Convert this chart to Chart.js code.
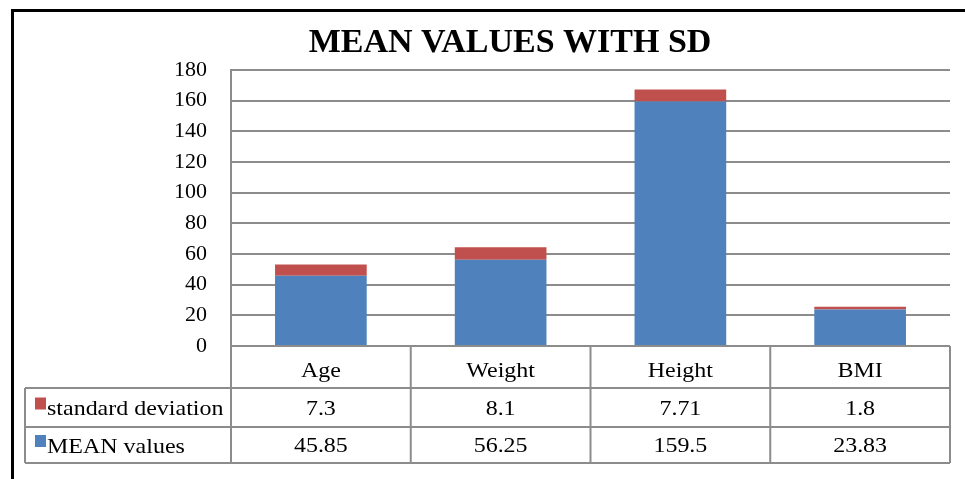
<!DOCTYPE html>
<html>
<head>
<meta charset="utf-8">
<script src="https://cdn.jsdelivr.net/npm/chart.js@4/dist/chart.umd.min.js"></script>
<style>
  html, body { margin: 0; padding: 0; background: #fff; }
  #wrap { position: relative; width: 965px; height: 479px; }
  #frame { position: absolute; left: 11px; top: 9px; right: 0; bottom: 0;
           border-top: 3px solid #000; border-left: 3px solid #000; pointer-events: none; }
</style>
</head>
<body>
<div id="wrap">
  <canvas id="c" width="965" height="479"></canvas>
  <div id="frame"></div>
</div>
<script>
const categories = ['Age', 'Weight', 'Height', 'BMI'];
const meanValues = [45.85, 56.25, 159.5, 23.83];
const sdValues = [7.3, 8.1, 7.71, 1.8];
const meanLabel = 'MEAN values';
const sdLabel = 'standard deviation';
const titleText = 'MEAN VALUES WITH SD';
const yTicks = [0, 20, 40, 60, 80, 100, 120, 140, 160, 180];

const BLUE = '#4F81BD';
const RED = '#C0504D';
const GRID = '#8c8c8c';
const SERIF = "'Liberation Serif', 'Times New Roman', serif";
const STRETCH = 1.09;

function stretchedText(ctx, text, x, y, align) {
  ctx.save();
  ctx.translate(x, y);
  ctx.scale(STRETCH, 1);
  ctx.textAlign = align;
  ctx.fillText(text, 0, 0);
  ctx.restore();
}

const dataTablePlugin = {
  id: 'dataTable',
  afterDraw(chart) {
    const ctx = chart.ctx;
    const xs = chart.scales.x;
    const area = chart.chartArea;
    const half = (xs.getPixelForValue(1) - xs.getPixelForValue(0)) / 2;
    const tableLeft = 25;
    const yHeadTop = area.bottom;
    const y1 = area.bottom + 42;
    const y2 = area.bottom + 81;
    const y3 = area.bottom + 117;
    const bounds = [area.left];
    categories.forEach((c, i) => bounds.push(xs.getPixelForValue(i) + half));

    ctx.save();
    // title
    ctx.fillStyle = '#000';
    ctx.font = 'bold 34px ' + SERIF;
    ctx.textBaseline = 'alphabetic';
    ctx.textAlign = 'center';
    ctx.fillText(titleText, 510, 52);

    ctx.strokeStyle = GRID;
    ctx.lineWidth = 2;
    ctx.beginPath();
    [y1, y2, y3].forEach(y => { ctx.moveTo(tableLeft, y); ctx.lineTo(bounds[bounds.length - 1], y); });
    ctx.moveTo(area.left, area.bottom); ctx.lineTo(area.left, y3);
    bounds.slice(1).forEach(x => { ctx.moveTo(x, yHeadTop); ctx.lineTo(x, y3); });
    ctx.moveTo(tableLeft, y1); ctx.lineTo(tableLeft, y3);
    ctx.stroke();

    ctx.fillStyle = '#000';
    ctx.font = '22px ' + SERIF;
    ctx.textBaseline = 'middle';
    categories.forEach((c, i) => {
      const cx = xs.getPixelForValue(i);
      stretchedText(ctx, c, cx, (yHeadTop + y1) / 2 + 4, 'center');
      stretchedText(ctx, String(sdValues[i]), cx, (y1 + y2) / 2 + 2, 'center');
      stretchedText(ctx, String(meanValues[i]), cx, (y2 + y3) / 2 + 1, 'center');
    });

    const rows = [
      { label: sdLabel, color: RED, top: y1, bot: y2 },
      { label: meanLabel, color: BLUE, top: y2, bot: y3 }
    ];
    rows.forEach(r => {
      const cy = (r.top + r.bot) / 2;
      ctx.fillStyle = r.color;
      ctx.fillRect(tableLeft + 10, cy - 10, 11, 12);
      ctx.fillStyle = '#000';
      stretchedText(ctx, r.label, tableLeft + 22, cy + 2, 'left');
    });
    ctx.restore();
  }
};

new Chart(document.getElementById('c'), {
  type: 'bar',
  data: {
    labels: categories,
    datasets: [
      { label: meanLabel, data: meanValues, backgroundColor: BLUE, borderWidth: 0 },
      { label: sdLabel, data: sdValues, backgroundColor: RED, borderWidth: 0 }
    ]
  },
  options: {
    responsive: false,
    animation: false,
    devicePixelRatio: 1,
    layout: { padding: { left: 0, right: 15, top: 70, bottom: 0 } },
    datasets: { bar: { barPercentage: 0.51, categoryPercentage: 1.0 } },
    plugins: {
      legend: { display: false },
      tooltip: { enabled: false },
      title: { display: false }
    },
    scales: {
      x: {
        stacked: true,
        grid: { display: false },
        border: { display: false },
        ticks: { display: false },
        afterFit(s) { s.height = 133; }
      },
      y: {
        stacked: true,
        min: 0,
        max: 180,
        afterBuildTicks(s) { s.ticks = yTicks.map(v => ({ value: v })); },
        afterFit(s) { s.width = 231; },
        grid: { color: GRID, lineWidth: 2, drawTicks: false },
        border: { display: true, color: GRID, width: 2 },
        ticks: {
          color: '#000',
          padding: 24,
          font: { family: SERIF, size: 22 }
        }
      }
    }
  },
  plugins: [dataTablePlugin]
});
</script>
</body>
</html>
